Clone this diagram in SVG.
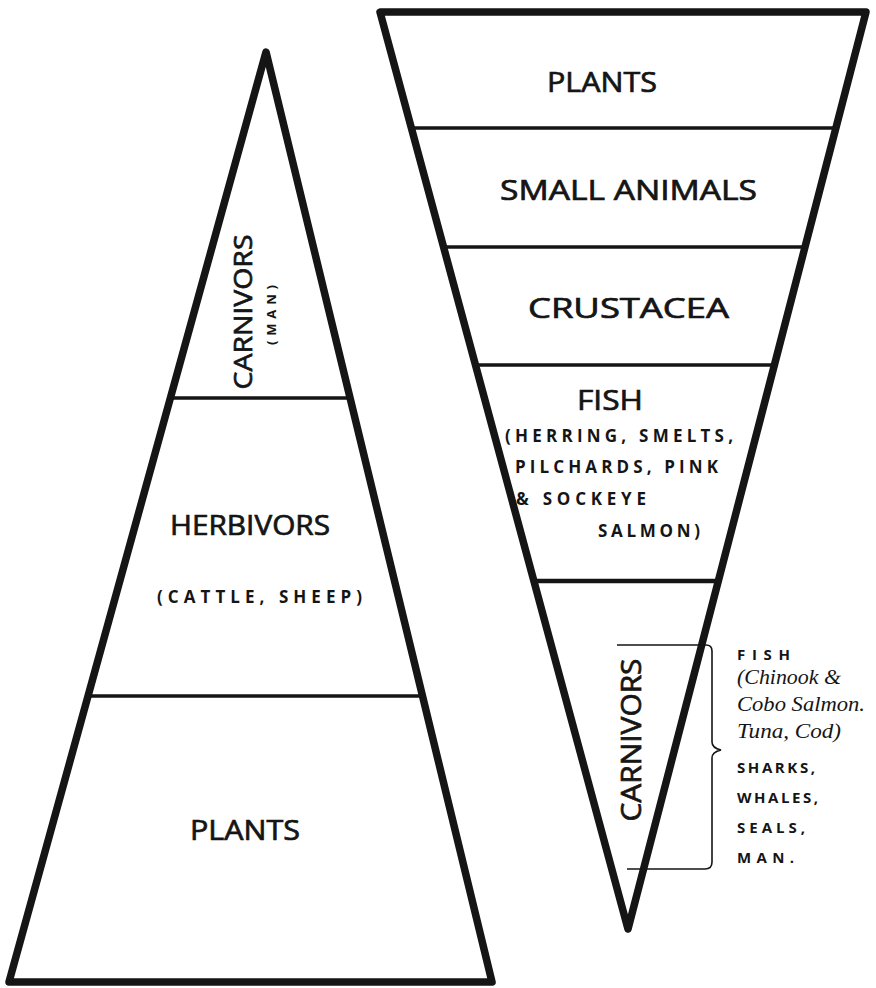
<svg xmlns="http://www.w3.org/2000/svg" width="876" height="988" viewBox="0 0 876 988">
<style>
.edge{fill:none;stroke:#151515;stroke-width:7.5;stroke-linejoin:round}
.dv{stroke:#151515;stroke-width:3.5;fill:none}
.dv2{stroke:#151515;stroke-width:4.5;fill:none}
.br{stroke:#151515;stroke-width:1.6;fill:none}
.big{font-family:"Open Sans","Liberation Sans",sans-serif;font-size:27px;fill:#151515;stroke:#151515;stroke-width:0.7}
.sm{font-family:"Open Sans","Liberation Sans",sans-serif;font-size:17px;font-weight:700;fill:#151515}
.lb{font-family:"Open Sans","Liberation Sans",sans-serif;font-size:15px;font-weight:700;fill:#151515}
.xs{font-family:"Open Sans","Liberation Sans",sans-serif;font-size:13px;font-weight:700;fill:#151515}
.it{font-family:"Liberation Serif",serif;font-style:italic;font-size:20px;fill:#151515}
</style>
<rect width="876" height="988" fill="#ffffff"/>
<g id="left-pyramid">
  <polygon class="edge" points="266,52 492,982 9,982"/>
  <line class="dv" x1="170" y1="398" x2="350" y2="398"/>
  <line class="dv" x1="88" y1="696" x2="423" y2="696"/>
</g>
<g id="left-carnivors">
  <text class="big" style="font-size:26px" text-anchor="middle" textLength="155" lengthAdjust="spacingAndGlyphs" transform="translate(252,312) rotate(-90)">CARNIVORS</text>
  <text class="xs" text-anchor="middle" textLength="60" lengthAdjust="spacing" transform="translate(276,315) rotate(-90)">(MAN)</text>
</g>
<g id="left-herbivors">
  <text class="big" x="170" y="535" textLength="160" lengthAdjust="spacingAndGlyphs">HERBIVORS</text>
  <text class="sm" x="157" y="603" textLength="205" lengthAdjust="spacing">(CATTLE, SHEEP)</text>
</g>
<g id="left-plants">
  <text class="big" x="190" y="840" textLength="110" lengthAdjust="spacingAndGlyphs">PLANTS</text>
</g>
<g id="right-pyramid">
  <polygon class="edge" points="380,12 866,12 628,929"/>
  <line class="dv" x1="411" y1="128" x2="836" y2="128"/>
  <line class="dv" x1="442" y1="247" x2="806" y2="247"/>
  <line class="dv" x1="473" y1="365" x2="775" y2="365"/>
  <line class="dv2" x1="534" y1="581" x2="718" y2="581"/>
</g>
<g id="right-plants">
  <text class="big" x="547" y="92" textLength="110" lengthAdjust="spacingAndGlyphs">PLANTS</text>
</g>
<g id="right-small-animals">
  <text class="big" x="500" y="200" textLength="257" lengthAdjust="spacingAndGlyphs">SMALL ANIMALS</text>
</g>
<g id="right-crustacea">
  <text class="big" x="528" y="318" textLength="201" lengthAdjust="spacingAndGlyphs">CRUSTACEA</text>
</g>
<g id="right-fish">
  <text class="big" x="577" y="410" textLength="66" lengthAdjust="spacingAndGlyphs">FISH</text>
  <text class="sm" x="505" y="442" textLength="228" lengthAdjust="spacing">(HERRING, SMELTS,</text>
  <text class="sm" x="515" y="473" textLength="203" lengthAdjust="spacing">PILCHARDS, PINK</text>
  <text class="sm" x="516" y="505" textLength="130" lengthAdjust="spacing">&amp; SOCKEYE</text>
  <text class="sm" x="598" y="537" textLength="102" lengthAdjust="spacing">SALMON)</text>
</g>
<g id="right-carnivors">
  <text class="big" text-anchor="middle" textLength="163" lengthAdjust="spacingAndGlyphs" transform="translate(641,740) rotate(-90)">CARNIVORS</text>
</g>
<g id="connectors">
  <path class="br" d="M617,645 H706 Q712,645 712,651 V742 Q712,748 721,750 Q712,752 712,758 V862 Q712,869 705,869 H627"/>
</g>
<g id="carnivor-list">
  <text class="lb" x="737" y="660" textLength="53" lengthAdjust="spacing">FISH</text>
  <text class="it" x="737" y="684" textLength="104" lengthAdjust="spacingAndGlyphs">(Chinook &amp;</text>
  <text class="it" x="737" y="711" textLength="128" lengthAdjust="spacingAndGlyphs">Cobo Salmon.</text>
  <text class="it" x="737" y="738" textLength="104" lengthAdjust="spacingAndGlyphs">Tuna, Cod)</text>
  <text class="lb" x="737" y="773" textLength="78" lengthAdjust="spacing">SHARKS,</text>
  <text class="lb" x="737" y="803" textLength="81" lengthAdjust="spacing">WHALES,</text>
  <text class="lb" x="737" y="833" textLength="68" lengthAdjust="spacing">SEALS,</text>
  <text class="lb" x="737" y="863" textLength="57" lengthAdjust="spacing">MAN.</text>
</g>
</svg>
